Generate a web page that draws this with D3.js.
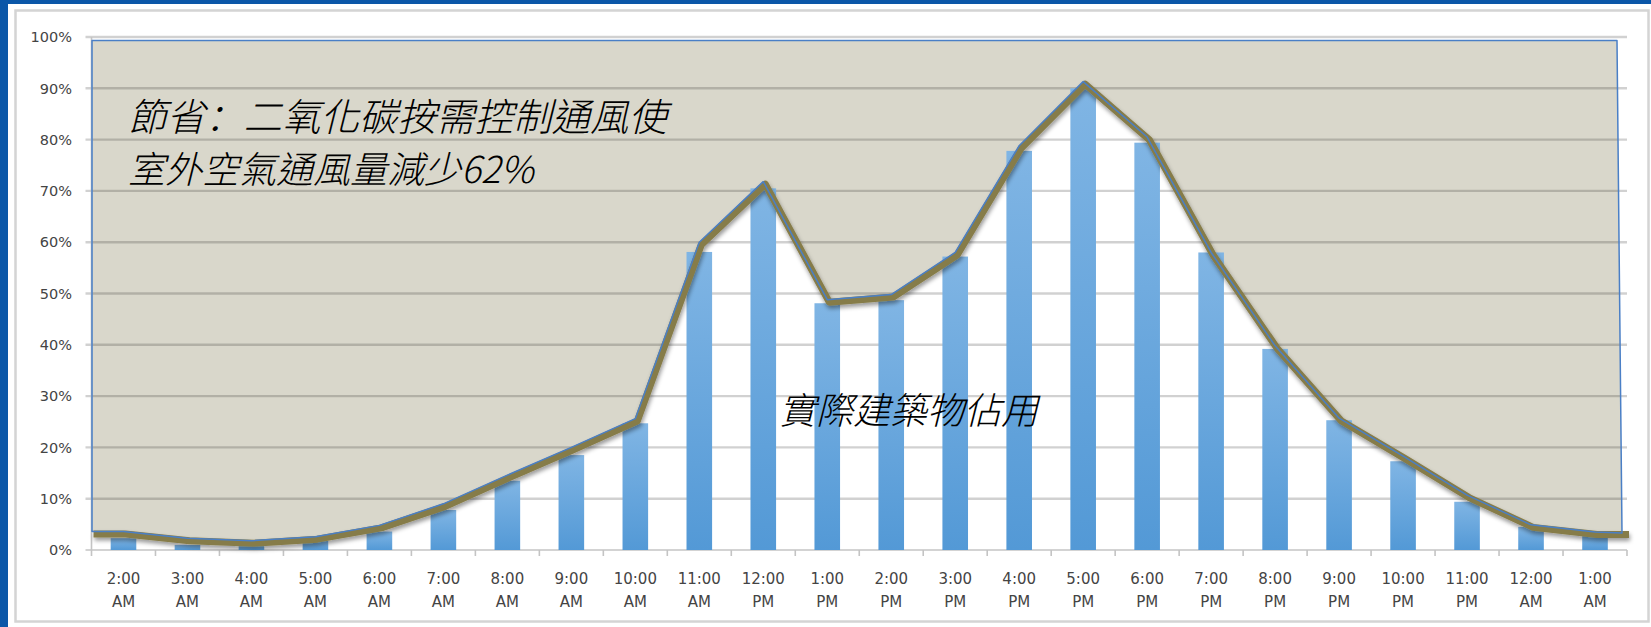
<!DOCTYPE html>
<html>
<head>
<meta charset="utf-8">
<script src="https://cdn.jsdelivr.net/npm/d3@7"></script>
<style>
  html, body { margin: 0; padding: 0; background: #0b57a8; }
  svg { display: block; }
</style>
</head>
<body>
<svg id="chart" width="1651" height="627"></svg>
<script>
// hour categories (two-line tick labels)
const hours = ["2:00", "3:00", "4:00", "5:00", "6:00", "7:00", "8:00", "9:00", "10:00", "11:00",
  "12:00", "1:00", "2:00", "3:00", "4:00", "5:00", "6:00", "7:00", "8:00", "9:00", "10:00", "11:00",
  "12:00", "1:00"];
const periods = ["AM", "AM", "AM", "AM", "AM", "AM", "AM", "AM", "AM", "AM",
  "PM", "PM", "PM", "PM", "PM", "PM", "PM", "PM", "PM", "PM", "PM", "PM",
  "AM", "AM"];

// actual building occupancy (bars), %
const occupancy = [2.3, 1.0, 0.8, 1.8, 3.6, 7.8, 13.5, 18.5, 24.7, 58.1, 70.5, 48.1,
  48.7, 57.2, 77.8, 90.0, 79.4, 58.0, 39.2, 25.3, 17.3, 9.4, 4.5, 3.1];

// demand controlled ventilation (line), %
const ventilation = [3.6, 2.3, 1.8, 2.6, 4.8, 9.0, 14.6, 20.0, 25.6, 60.0, 71.8, 48.8,
  49.8, 58.0, 78.8, 91.3, 80.5, 58.0, 39.8, 25.7, 18.3, 10.7, 4.9, 3.5];

// fixed ventilation ceiling that bounds the savings area, %
const ceiling = 99.3;

const yTicks = [0, 10, 20, 30, 40, 50, 60, 70, 80, 90, 100];

// first note line: head, colon (left-aligned glyph), tail
const savingsHead = "節省";
const savingsColon = "：";
const savingsTail = "二氧化碳按需控制通風使";
const savingsLine2 = "室外空氣通風量減少62%";
const occupancyLabel = "實際建築物佔用";

const width = 1651, height = 627;
const plot = { left: 91.5, right: 1627, top: 37, bottom: 550 };

const svg = d3.select("#chart");

// slide background and chart panel
svg.append("rect").attr("width", width).attr("height", height).attr("fill", "#0b57a8");
svg.append("rect").attr("x", 8).attr("y", 4).attr("width", width - 8).attr("height", height - 4).attr("fill", "#fff");
svg.append("rect")
  .attr("x", 15.5).attr("y", 10.5)
  .attr("width", 1633).attr("height", 611)
  .attr("fill", "#fff")
  .attr("stroke", "#d4d4d4")
  .attr("stroke-width", 2.5);

const defs = svg.append("defs");
const grad = defs.append("linearGradient")
  .attr("id", "barGrad").attr("x1", 0).attr("y1", 0).attr("x2", 0).attr("y2", 1);
grad.append("stop").attr("offset", "0%").attr("stop-color", "#80b5e4");
grad.append("stop").attr("offset", "100%").attr("stop-color", "#5399d6");

const shadow = defs.append("filter")
  .attr("id", "lineShadow").attr("x", "-5%").attr("y", "-5%").attr("width", "110%").attr("height", "120%");
shadow.append("feDropShadow")
  .attr("dx", 1).attr("dy", 3).attr("stdDeviation", 2.2)
  .attr("flood-color", "#000").attr("flood-opacity", 0.4);

const blur = defs.append("filter").attr("id", "soft");
blur.append("feGaussianBlur").attr("stdDeviation", 0.5);

// scales
const x = d3.scaleBand()
  .domain(d3.range(hours.length))
  .range([plot.left, plot.right])
  .paddingInner(0.6)
  .paddingOuter(0.3);

const y = d3.scaleLinear().domain([0, 100]).range([plot.bottom, plot.top]);

const cx = (i) => x(i) + x.bandwidth() / 2;
const gap = (x.step() - x.bandwidth()) / 2;

// line points: category centres, extended flat to both plot edges
const linePts = [[plot.left, ventilation[0]]]
  .concat(ventilation.map((v, i) => [cx(i), v]))
  .concat([[plot.right, ventilation[ventilation.length - 1]]]);

const line = d3.line().x((d) => d[0]).y((d) => y(d[1]));

// savings area (from ceiling down to the ventilation line)
const areaPts = [[plot.left + 0.5, ceiling], [plot.right - 10, ceiling], [plot.right - 5, ventilation[ventilation.length - 1] - 0.2]]
  .concat(ventilation.map((v, i) => [cx(i), v]).reverse())
  .concat([[plot.left + 0.5, ventilation[0]]]);

svg.append("path")
  .attr("d", line(areaPts) + "Z")
  .attr("fill", "#d9d7cb");

// gridlines
svg.append("g")
  .attr("filter", "url(#soft)")
  .selectAll("line")
  .data(yTicks.filter((t) => t > 0))
  .join("line")
  .attr("x1", plot.left - 6)
  .attr("x2", plot.right)
  .attr("y1", (d) => y(d))
  .attr("y2", (d) => y(d))
  .attr("stroke", "#000")
  .attr("stroke-opacity", 0.18)
  .attr("stroke-width", 2.4);

// axes lines and tick marks
const axisG = svg.append("g").attr("stroke", "#c4c4c4").attr("stroke-width", 1.6);
axisG.append("line")
  .attr("x1", plot.left - 6).attr("x2", plot.right)
  .attr("y1", y(0)).attr("y2", y(0));
axisG.append("line")
  .attr("x1", plot.left).attr("x2", plot.left)
  .attr("y1", y(100)).attr("y2", y(0));
axisG.selectAll(".xt")
  .data(d3.range(hours.length + 1))
  .join("line")
  .attr("class", "xt")
  .attr("x1", (i) => (i < hours.length ? x(i) - gap : plot.right))
  .attr("x2", (i) => (i < hours.length ? x(i) - gap : plot.right))
  .attr("y1", y(0))
  .attr("y2", y(0) + 6);

// bars
svg.append("g")
  .selectAll("rect")
  .data(occupancy)
  .join("rect")
  .attr("x", (d, i) => x(i))
  .attr("width", x.bandwidth())
  .attr("y", (d) => y(d))
  .attr("height", (d) => y(0) - y(d))
  .attr("fill", "url(#barGrad)");

// olive ventilation line with shadow
svg.append("path")
  .attr("d", line(linePts))
  .attr("transform", "translate(2,2.5)")
  .attr("fill", "none")
  .attr("stroke", "#867c49")
  .attr("stroke-width", 7)
  .attr("stroke-linejoin", "round")
  .attr("filter", "url(#lineShadow)");

// blue outline of the savings area
svg.append("path")
  .attr("d", line(areaPts) + "Z")
  .attr("fill", "none")
  .attr("stroke", "#4a7fc6")
  .attr("stroke-width", 1.5)
  .attr("stroke-linejoin", "round");

// y tick labels
svg.append("g")
  .selectAll("text")
  .data(yTicks)
  .join("text")
  .attr("x", 72)
  .attr("y", (d) => y(d))
  .attr("dy", "0.36em")
  .attr("text-anchor", "end")
  .attr("font-family", "DejaVu Sans, sans-serif")
  .attr("font-size", "14.5px")
  .attr("fill", "#444")
  .text((d) => d + "%");

// x tick labels
const xl = svg.append("g")
  .attr("font-family", "DejaVu Sans, sans-serif")
  .attr("font-size", "15px")
  .attr("fill", "#444")
  .attr("text-anchor", "middle");
hours.forEach((h, i) => {
  const t = xl.append("text").attr("x", cx(i));
  t.append("tspan").attr("x", cx(i)).attr("y", 584).text(h);
  t.append("tspan").attr("x", cx(i)).attr("y", 607).text(periods[i]);
});

// annotations
const note = svg.append("g")
  .attr("font-family", "Noto Sans CJK TC, sans-serif")
  .attr("font-style", "italic")
  .attr("font-weight", 300)
  .attr("font-size", "37px")
  .attr("fill", "#000");
const first = note.append("text").attr("x", 128).attr("y", 131).attr("font-size", "38.5px");
first.append("tspan").text(savingsHead);
first.append("tspan").attr("font-family", "Noto Sans CJK SC, sans-serif").text(savingsColon);
first.append("tspan").text(savingsTail);
note.append("text").attr("x", 128).attr("y", 183).text(savingsLine2);
note.append("text").attr("x", 779).attr("y", 424).text(occupancyLabel);
</script>
</body>
</html>
